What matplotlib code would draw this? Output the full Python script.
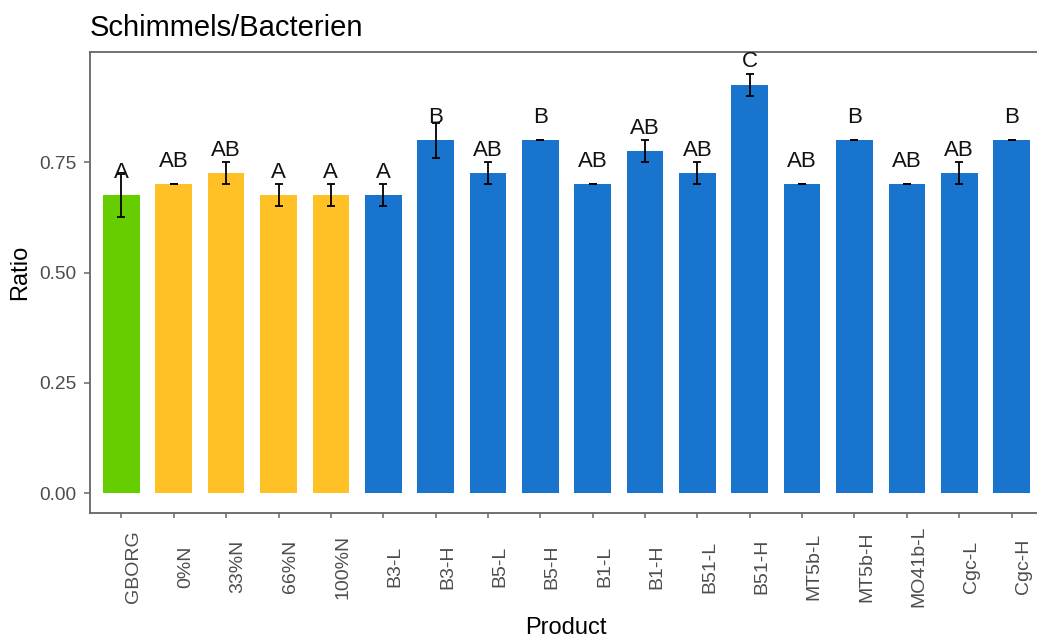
import numpy as np
import matplotlib
matplotlib.use("Agg")
import matplotlib.pyplot as plt
from matplotlib.transforms import ScaledTranslation

plt.rcParams['font.family'] = ['Liberation Sans', 'DejaVu Sans']

products = ["GBORG", "0%N", "33%N", "66%N", "100%N", "B3-L", "B3-H", "B5-L", "B5-H",
            "B1-L", "B1-H", "B51-L", "B51-H", "MT5b-L", "MT5b-H", "MO41b-L", "Cgc-L", "Cgc-H"]
ratio = [0.675, 0.700, 0.725, 0.675, 0.675, 0.675, 0.800, 0.725, 0.800,
         0.700, 0.775, 0.725, 0.925, 0.700, 0.800, 0.700, 0.725, 0.800]
err = [0.048, 0.0, 0.025, 0.025, 0.025, 0.025, 0.040, 0.025, 0.0,
       0.0, 0.025, 0.025, 0.025, 0.0, 0.0, 0.0, 0.025, 0.0]
letters = ["A", "AB", "AB", "A", "A", "A", "B", "AB", "B",
           "AB", "AB", "AB", "C", "AB", "B", "AB", "AB", "B"]
group = ["ctrl"] + ["N"] * 4 + ["strain"] * 13

colours = {"ctrl": "#66CD00", "N": "#FFC125", "strain": "#1874CD"}

W, H = 1037, 640
fig = plt.figure(figsize=(W / 100, H / 100), dpi=100)
ax = fig.add_axes([90 / W, 1 - 513.3 / H, (1043 - 90) / W, (513.3 - 51.7) / H])

x = np.arange(1, len(products) + 1)
ax.bar(x, ratio, width=0.7, color=[colours[g] for g in group], zorder=2)
ax.errorbar(x, ratio, yerr=err, fmt="none", ecolor="black", elinewidth=1.3,
            capsize=2.6, capthick=1.3, zorder=3)
for xi, yi, lab in zip(x, ratio, letters):
    ax.text(xi, yi + 0.04, lab, ha="center", va="baseline", fontsize=16, color="#111111", zorder=4)

ax.set_xlim(0.4, len(products) + 0.6)
ax.set_ylim(-0.0453, 1.0007)
ax.set_yticks([0, 0.25, 0.5, 0.75])
ax.set_yticklabels(["0.00", "0.25", "0.50", "0.75"])
ax.set_xticks(x)
ax.set_xticklabels(products, rotation=90, ha="center", va="center")

for s in ax.spines.values():
    s.set_color("#666666")
    s.set_linewidth(1.3)
ax.tick_params(axis="y", length=4.5, width=1.1, color="#666666", pad=5,
               labelsize=13.8, labelcolor="#4D4D4D")
ax.tick_params(axis="x", length=3.3, width=1.1, color="#666666", pad=35,
               labelsize=14, labelcolor="#4D4D4D")
# rotated labels sit a little right of their ticks
shift = ScaledTranslation(0.12, 0, fig.dpi_scale_trans)
for lab in ax.get_xticklabels():
    lab.set_transform(lab.get_transform() + shift)

fig.text(90 / W, 1 - 36 / H, "Schimmels/Bacterien", fontsize=21, va="baseline", ha="left")
fig.text(20 / W, 1 - 272 / H, "Ratio", fontsize=17, rotation=90, ha="center", va="center")
fig.text(566 / W, 1 - 634 / H, "Product", fontsize=17, ha="center", va="baseline")

fig.savefig("out.png", dpi=100)
